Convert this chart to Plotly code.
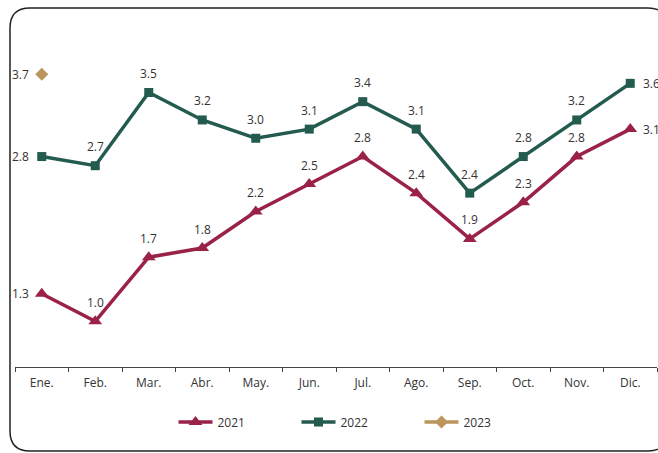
import plotly.graph_objects as go

months = ["Ene.", "Feb.", "Mar.", "Abr.", "May.", "Jun.", "Jul.", "Ago.", "Sep.", "Oct.", "Nov.", "Dic."]
v2021 = [1.3, 1.0, 1.7, 1.8, 2.2, 2.5, 2.8, 2.4, 1.9, 2.3, 2.8, 3.1]
v2022 = [2.8, 2.7, 3.5, 3.2, 3.0, 3.1, 3.4, 3.1, 2.4, 2.8, 3.2, 3.6]
v2023 = [3.7]

W, H = 658, 453
ML, MR, MT, MB = 15, 1, 20, 86
PW, PH = W - ML - MR, H - MT - MB
PX_PER_UNIT = 91.5

txtcol = "#333333"
FONT = "Open Sans"

series = [
    ("2021", v2021, "#9B2247", "triangle-up", 12),
    ("2022", v2022, "#235B4E", "square", 9),
    ("2023", v2023, "#BC955C", "diamond", 10),
]

fig = go.Figure()
annotations = []
for name, vals, col, sym, sz in series:
    xs = months[:len(vals)]
    fig.add_trace(go.Scatter(x=xs, y=vals, name=name, mode="lines+markers",
                             line=dict(color=col, width=3.5),
                             marker=dict(symbol=sym, size=sz, color=col),
                             hoverinfo="skip"))
    for i, (m, v) in enumerate(zip(xs, vals)):
        a = dict(x=m, y=v, text=f"{v:.1f}", showarrow=False,
                 font=dict(family=FONT, size=12, color=txtcol))
        if i == 0:
            a.update(xanchor="right", xshift=-11, yanchor="middle")
        elif i == 11:
            a.update(xanchor="left", xshift=11, yanchor="middle")
        else:
            a.update(xanchor="center", yanchor="middle", yshift=19)
        annotations.append(a)

# rounded border (pixel coords converted to paper coords)
def px(x):
    return (x - ML) / PW
def py(y):
    return (H - MB - y) / PH

L, T, R, B, r = 10, 8, 668, 451, 20
path = (f"M {px(L+r)},{py(T)} L {px(R-r)},{py(T)} Q {px(R)},{py(T)} {px(R)},{py(T+r)} "
        f"L {px(R)},{py(B-r)} Q {px(R)},{py(B)} {px(R-r)},{py(B)} "
        f"L {px(L+r)},{py(B)} Q {px(L)},{py(B)} {px(L)},{py(B-r)} "
        f"L {px(L)},{py(T+r)} Q {px(L)},{py(T)} {px(L+r)},{py(T)} Z")

fig.update_layout(
    width=W, height=H,
    margin=dict(l=ML, r=MR, t=MT, b=MB),
    paper_bgcolor="white", plot_bgcolor="white",
    font=dict(family=FONT, size=12, color=txtcol),
    annotations=annotations,
    shapes=[dict(type="path", path=path, xref="paper", yref="paper",
                 line=dict(color="#222222", width=1.5), layer="below")],
    xaxis=dict(showgrid=False, showline=True, linecolor="#444444", linewidth=1,
               ticks="outside", tickson="boundaries", ticklen=4, tickcolor="#444444",
               ticklabelstandoff=5,
               tickfont=dict(size=12, color=txtcol), range=[-0.5, 11.5]),
    yaxis=dict(visible=False, range=[0.5, 0.5 + PH / PX_PER_UNIT]),
    legend=dict(orientation="h", x=px(358), xanchor="center", y=py(422), yanchor="middle",
                font=dict(size=12, color=txtcol), entrywidth=74, entrywidthmode="pixels",
                itemwidth=34),
    showlegend=True,
)

fig.write_html("out.html", config={"displayModeBar": False},
               post_script="document.body.style.margin='0';document.body.style.overflow='hidden';")
